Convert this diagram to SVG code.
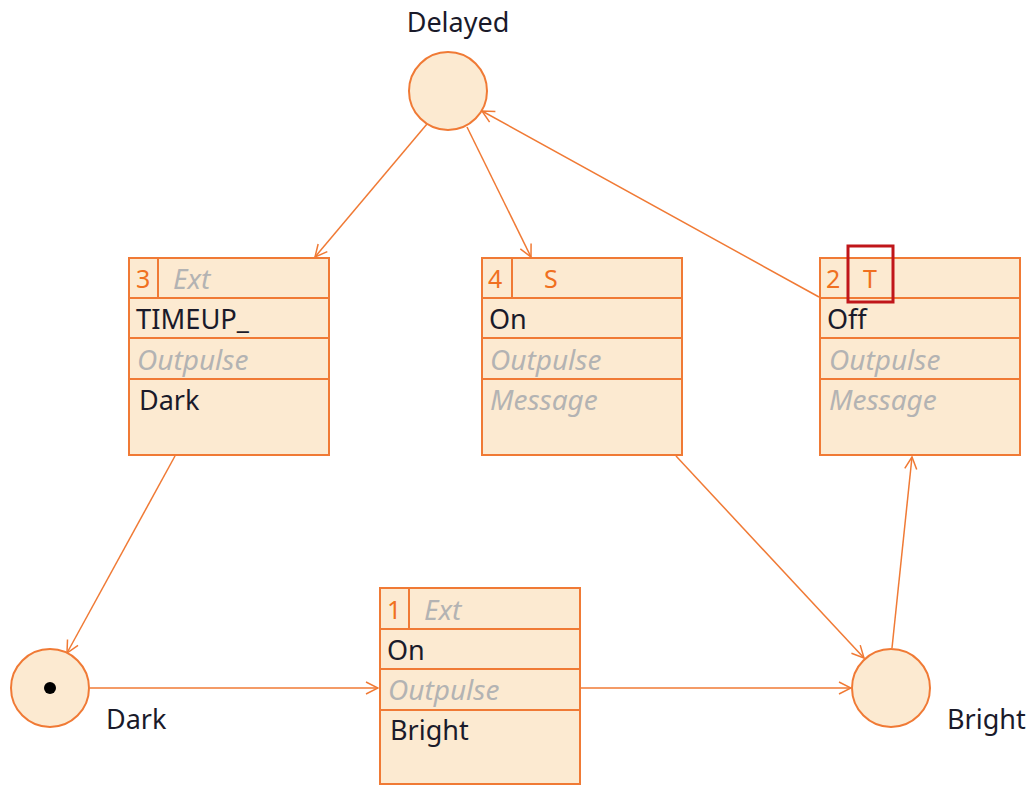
<svg xmlns="http://www.w3.org/2000/svg" width="1029" height="786" viewBox="0 0 1029 786">
  <defs>
    <marker id="arr" viewBox="0 0 14 14" refX="13" refY="7" markerWidth="14" markerHeight="14" markerUnits="userSpaceOnUse" orient="auto">
      <path d="M1,1 L13,7 L1,13" fill="none" stroke="#F07A35" stroke-width="1.5"/>
    </marker>
  </defs>
  <style>
    .place { fill: #FCEAD1; stroke: #F07A35; stroke-width: 2; }
    .box { fill: #FCEAD1; stroke: #F07A35; stroke-width: 2; }
    .sep { stroke: #F07A35; stroke-width: 2; fill: none; }
    .edge { stroke: #F07A35; stroke-width: 1.5; fill: none; marker-end: url(#arr); }
    text { font-family: "Noto Sans", "Open Sans", "Liberation Sans", sans-serif; font-size: 27px; }
    .lbl { fill: #1A1A2A; }
    .num { fill: #F07020; font-size: 25px; }
    .hint { fill: #B3B3B3; font-style: italic; font-size: 28px; }
    .hl { fill: none; stroke: #C0161A; stroke-width: 3; }
  </style>
  <rect width="1029" height="786" fill="#FFFFFF"/>

  <!-- connectors -->
  <g id="connectors">
    <line class="edge" x1="427" y1="124" x2="315" y2="257"/>
    <line class="edge" x1="467" y1="127" x2="531" y2="257"/>
    <line class="edge" x1="819" y1="297" x2="482" y2="111"/>
    <line class="edge" x1="175" y1="456" x2="67" y2="653"/>
    <line class="edge" x1="90" y1="688" x2="378" y2="688"/>
    <line class="edge" x1="581" y1="688" x2="851" y2="688"/>
    <line class="edge" x1="676" y1="456" x2="864" y2="658"/>
    <line class="edge" x1="892" y1="648" x2="912" y2="457"/>
  </g>

  <!-- places -->
  <g id="place-delayed">
    <circle class="place" cx="448" cy="91" r="39"/>
    <text class="lbl" x="458" y="32" text-anchor="middle">Delayed</text>
  </g>
  <g id="place-dark">
    <circle class="place" cx="50" cy="688" r="39"/>
    <circle cx="50" cy="688" r="6" fill="#000"/>
    <text class="lbl" x="106" y="729">Dark</text>
  </g>
  <g id="place-bright">
    <circle class="place" cx="891" cy="688" r="39"/>
    <text class="lbl" x="947" y="729">Bright</text>
  </g>

  <!-- transitions -->
  <g id="transition-3">
    <rect class="box" x="129" y="258" width="200" height="197"/>
    <path class="sep" d="M129,298 H329 M129,338 H329 M129,379 H329 M158,258 V298"/>
    <text class="num" x="136" y="288">3</text>
    <text class="hint" x="173" y="289">Ext</text>
    <text class="lbl" x="136" y="329" textLength="113" lengthAdjust="spacingAndGlyphs">TIMEUP_</text>
    <text class="hint" x="137" y="370">Outpulse</text>
    <text class="lbl" x="139" y="410">Dark</text>
  </g>
  <g id="transition-4">
    <rect class="box" x="482" y="258" width="200" height="197"/>
    <path class="sep" d="M482,298 H682 M482,338 H682 M482,379 H682 M512,258 V298"/>
    <text class="num" x="488" y="288">4</text>
    <text class="num" x="544" y="288">S</text>
    <text class="lbl" x="489" y="329">On</text>
    <text class="hint" x="490" y="370">Outpulse</text>
    <text class="hint" x="490" y="410">Message</text>
  </g>
  <g id="transition-2">
    <rect class="box" x="820" y="258" width="200" height="197"/>
    <path class="sep" d="M820,298 H1020 M820,338 H1020 M820,379 H1020"/>
    <text class="num" x="826" y="288">2</text>
    <text class="num" x="863" y="288">T</text>
    <text class="lbl" x="827" y="329">Off</text>
    <text class="hint" x="829" y="370">Outpulse</text>
    <text class="hint" x="829" y="410">Message</text>
    <rect class="hl" x="848" y="246" width="45" height="56"/>
  </g>
  <g id="transition-1">
    <rect class="box" x="380" y="588" width="200" height="196"/>
    <path class="sep" d="M380,629 H580 M380,669 H580 M380,710 H580 M409,588 V629"/>
    <text class="num" x="387" y="619">1</text>
    <text class="hint" x="424" y="620">Ext</text>
    <text class="lbl" x="387" y="660">On</text>
    <text class="hint" x="388" y="700">Outpulse</text>
    <text class="lbl" x="390" y="740">Bright</text>
  </g>
</svg>
